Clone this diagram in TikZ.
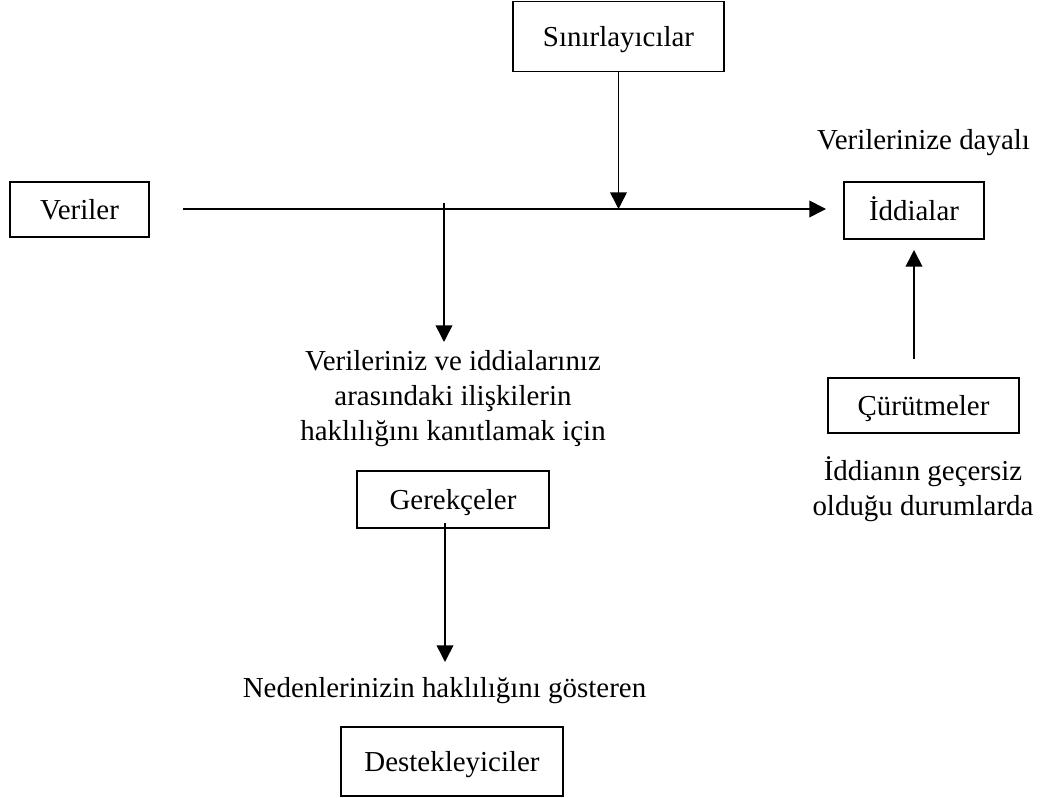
\documentclass[tikz,border=0pt]{standalone}
\usepackage{fontspec}
\setmainfont{Liberation Serif}
\usetikzlibrary{arrows.meta}
\begin{document}
\begin{tikzpicture}[x=0.75pt,y=-0.75pt,
  font=\fontsize{21.7}{26.25}\selectfont,
  box/.style={draw, line width=1.1pt, inner sep=0pt, text height=14.4pt, text depth=0pt},
  lbl/.style={inner sep=0pt, align=center},
  arr/.style={line width=1.2pt, -{Triangle[length=12.5pt,width=12.5pt]}},
  plain/.style={line width=1.2pt}]
\useasboundingbox (0,0) rectangle (1046,798);
% boxes
\node[box, minimum width=104.25pt, minimum height=41.25pt] (ver) at (79.5,209.5) {Veriler};
\node[box, minimum width=158.25pt, minimum height=52.5pt] (sin) at (618.5,36.5) {Sınırlayıcılar};
\node[box, minimum width=105pt, minimum height=42.75pt] (idd) at (914,210.5) {İddialar};
\node[box, minimum width=143.25pt, minimum height=41.25pt] (cur) at (923.5,405.5) {Çürütmeler};
\node[box, minimum width=144pt, minimum height=42.75pt] (ger) at (453,499.5) {Gerekçeler};
\node[box, minimum width=166.5pt, minimum height=51.75pt] (des) at (452,761.5) {Destekleyiciler};
% labels (base = baseline of last line)
\node[lbl, anchor=base] (lclaim) at (923.5,150) {Verilerinize dayalı};
\node[lbl, anchor=base] (lwarr) at (453,440.5) {Verileriniz ve iddialarınız\\arasındaki ilişkilerin\\haklılığını kanıtlamak için};
\node[lbl, anchor=base] (lreb) at (923,515.5) {İddianın geçersiz\\olduğu durumlarda};
\node[lbl, anchor=base] (lback) at (444.5,697) {Nedenlerinizin haklılığını gösteren};
% connector points
\coordinate (m0) at (183,209);
\coordinate (m1) at (826,209);
\coordinate (b0) at (444,203);
\coordinate (b1) at (444,342);
\coordinate (c0) at (914,359);
\coordinate (c1) at (914,250);
\coordinate (g0) at (445,523);
\coordinate (g1) at (445,662);
% connectors
\draw[arr] (m0) -- (m1);
\draw[arr] (sin.south) -- (sin.south |- m0);
\draw[arr] (b0) -- (b1);
\draw[arr] (c0) -- (c1);
\draw[arr] (g0) -- (g1);
\end{tikzpicture}
\end{document}
